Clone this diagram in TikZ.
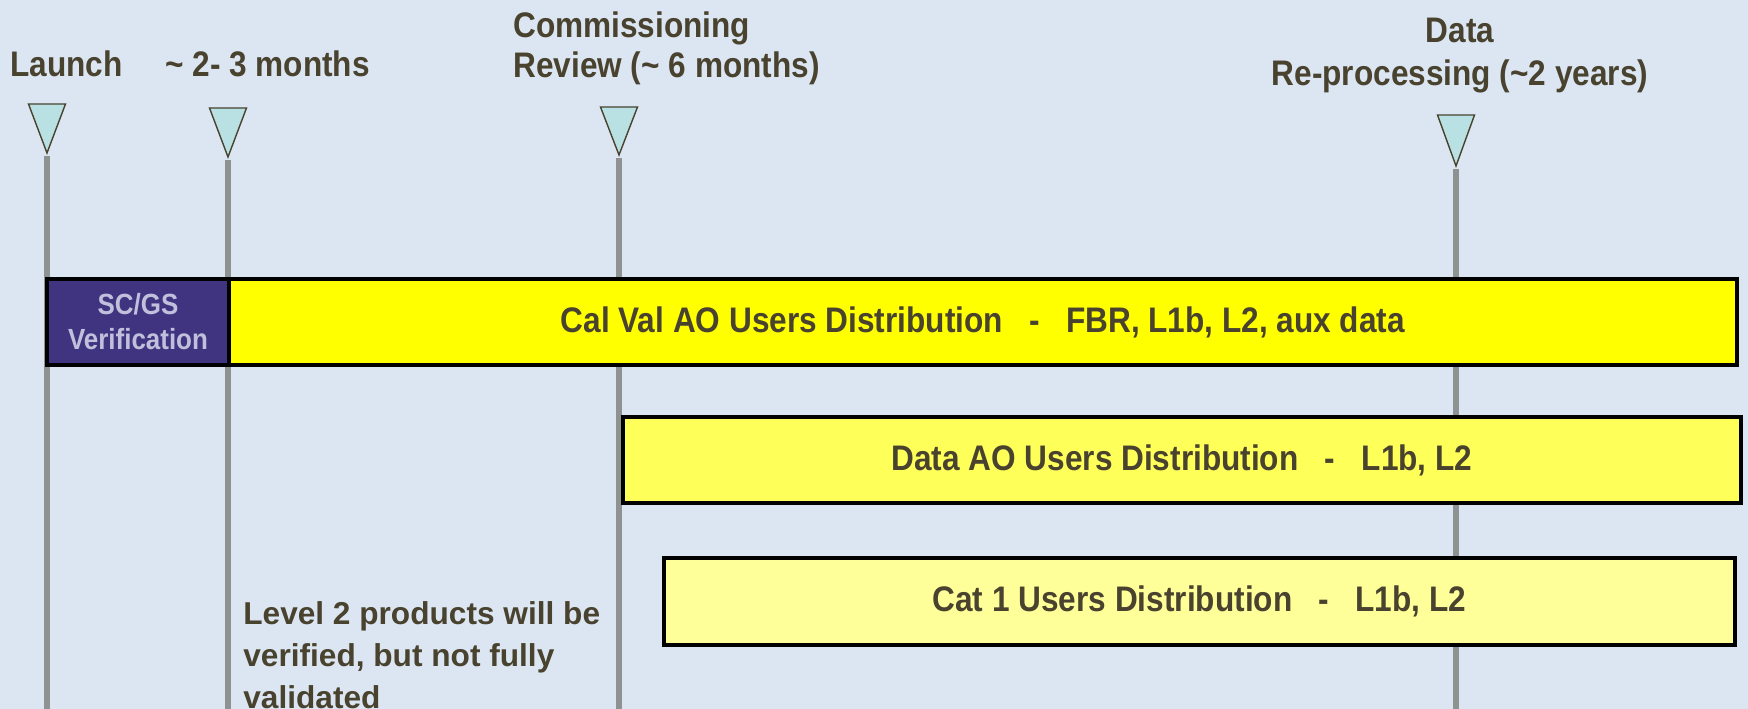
\documentclass[tikz,border=0pt]{standalone}
\usepackage{fontspec}
\setmainfont{Liberation Sans}
\newfontfamily\narrowsans[FakeStretch=0.89]{Liberation Sans}
\usetikzlibrary{positioning}

\definecolor{bgblue}{RGB}{220,230,242}
\definecolor{textolive}{RGB}{72,66,46}
\definecolor{polegray}{RGB}{142,146,144}
\definecolor{markercyan}{RGB}{185,224,227}
\definecolor{scgspurple}{RGB}{64,51,128}
\definecolor{scgstext}{RGB}{192,192,220}
\definecolor{calyellow}{RGB}{255,255,0}
\definecolor{datayellow}{RGB}{255,255,90}
\definecolor{catyellow}{RGB}{255,255,153}

\tikzset{
    pole/.style={draw=polegray, line width=3.4pt},
    marker/.style={draw=textolive, fill=markercyan, line width=0.8pt, line join=miter},
    milestone/.style={font=\narrowsans\bfseries\fontsize{20.2}{23.3}\selectfont, text=textolive, inner sep=0pt},
    notetext/.style={font=\bfseries\fontsize{18}{23.9}\selectfont, text=textolive, inner sep=0pt},
    phasebar/.style={draw=black, line width=2.3pt, rectangle, inner sep=0pt, outer sep=0pt, minimum height=1.72cm, font=\narrowsans\bfseries\fontsize{20.2}{24}\selectfont, text=textolive},
    verifybox/.style={phasebar, fill=scgspurple, text=scgstext, align=center, font=\narrowsans\bfseries\fontsize{16.6}{19.9}\selectfont},
    calvalbox/.style={phasebar, fill=calyellow},
    dataaobox/.style={phasebar, fill=datayellow},
    catbox/.style={phasebar, fill=catyellow},
}

\begin{document}
\begin{tikzpicture}[x=0.02cm, y=-0.02cm]
            % Background
            \fill[bgblue] (0,0) rectangle (1748,709);
            \useasboundingbox (0,0) rectangle (1748,709);

            % Milestone poles and markers: name / x / top / tip
            \foreach \name/\x/\top/\tip in {launch/47/104/153, early/228/108/157, review/619/107/155, reproc/1456/115/166} {
                \coordinate (\name) at (\x,\tip);
                \coordinate (\name foot) at (\x,712);
                \draw[pole] ([yshift=-0.06cm]\name) -- (\name foot);
                \draw[marker] (\x-18.5,\top) -- (\x+18.5,\top) -- (\name) -- cycle;
            }

            % Distribution phases
            \node[verifybox, anchor=north west, minimum width=3.64cm] (scgs) at (47,279) {SC/GS\\Verification};
            \node[calvalbox, right=0pt of scgs, minimum width=30.16cm] (calval) {Cal Val AO Users Distribution~~~-~~~FBR, L1b, L2, aux data};
            \node[dataaobox, anchor=north west, minimum width=22.36cm] (dataao) at (623,417) {Data AO Users Distribution~~~-~~~L1b, L2};
            \node[catbox, anchor=north west, minimum width=21.42cm, minimum height=1.74cm] (cat1) at (664,558) {Cat 1 Users Distribution~~~-~~~L1b, L2};

            % Milestone labels (base anchor sits on the last line)
            \node[milestone, anchor=base west] (launchlbl) at (10,77) {Launch};
            \node[milestone, anchor=base west] (earlylbl) at (165,77) {\textasciitilde{} 2- 3 months};
            \node[milestone, anchor=base west, align=left] (reviewlbl) at (513,78) {Commissioning\\Review (\textasciitilde{} 6 months)};
            \node[milestone, anchor=base, align=center, font=\narrowsans\bfseries\fontsize{20.2}{25}\selectfont] (reproclbl) at (1460,86) {Data\\Re-processing (\textasciitilde2 years)};

            % Note on level 2 products
            \node[notetext, anchor=base west, align=left] (l2note) at (243,708) {Level 2 products will be\\verified, but not fully\\validated};
\end{tikzpicture}
\end{document}
